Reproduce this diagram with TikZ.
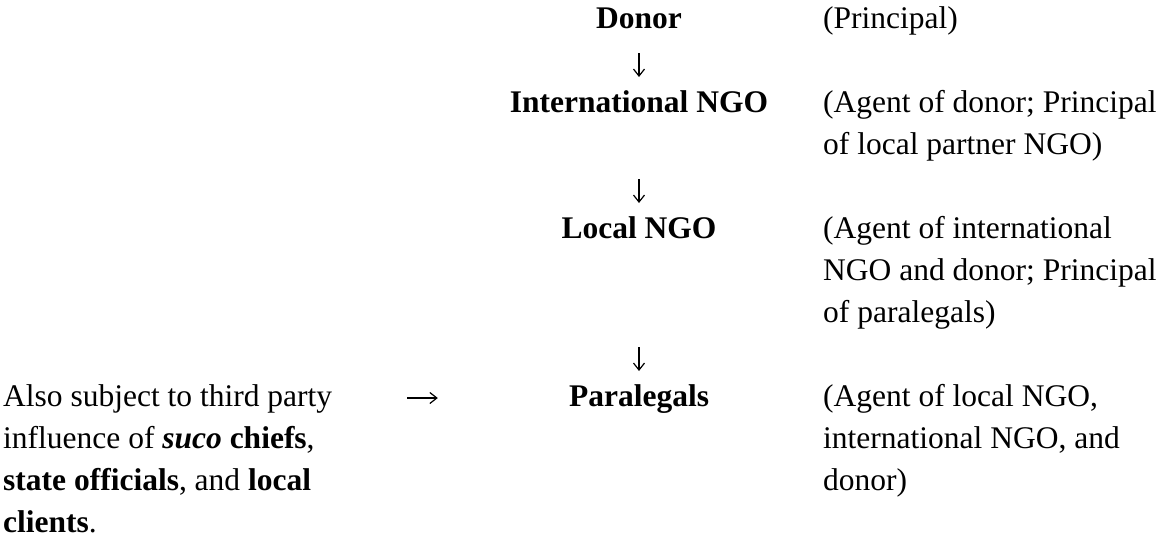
\documentclass[tikz,border=0pt]{standalone}
\usepackage{fontspec}
\setmainfont{Liberation Serif}
\usetikzlibrary{arrows.meta}

\newcommand{\stacklines}[1]{\begin{tabular}[t]{@{}l@{}}#1\end{tabular}}

\begin{document}
\begin{tikzpicture}[x=1pt,y=-1pt,
        every node/.style={inner sep=0pt,font=\fontsize{31.5}{42}\selectfont},
        party/.style={anchor=base,font=\fontsize{31.5}{42}\selectfont\bfseries},
        role/.style={anchor=base west},
        flow/.style={line width=1.2pt,-{Straight Barb[length=7pt,width=11pt]}}]
            \useasboundingbox (0,0) rectangle (1161,539);
            % the chain of principals and agents
            \node[party] (donor) at (639,28) {Donor};
            \node[party] (intl) at (639,112) {International NGO};
            \node[party] (local) at (639,238) {Local NGO};
            \node[party] (para) at (639,406) {Paralegals};
            % roles
            \node[role] (donorrole) at (823,28) {(Principal)};
            \node[role] (intlrole) at (823,112) {\stacklines{(Agent of donor; Principal\\of local partner NGO)}};
            \node[role] (localrole) at (823,238) {\stacklines{(Agent of international\\NGO and donor; Principal\\of paralegals)}};
            \node[role] (pararole) at (823,406) {\stacklines{(Agent of local NGO,\\international NGO, and\\donor)}};
            % third parties
            \node[role] (third) at (3,406) {\stacklines{Also subject to third party\\influence of \textbf{\textit{suco}} \textbf{chiefs},\\\textbf{state officials}, and \textbf{local}\\\textbf{clients}.}};
            % arrows
            \foreach \a/\b/\s in {donor/intl/25,intl/local/67,local/para/109}
                \draw[flow,shorten <=\s pt,shorten >=35pt] (\a.base) -- (\b.base);
            \draw[flow,shorten <=75pt,shorten >=131pt] ([yshift=8pt]third.base east) -- ([yshift=8pt]para.base west);
        \end{tikzpicture}
\end{document}
